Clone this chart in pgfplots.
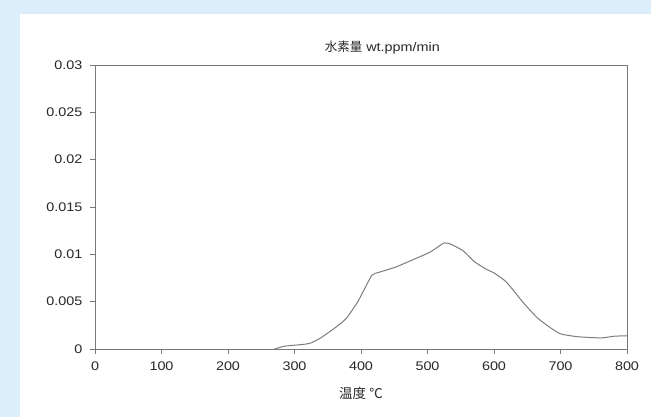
\documentclass[border=0pt]{standalone}
\usepackage{pgfplots}
\pgfplotsset{compat=1.18}
\usepackage{fontspec}
\setmainfont{Liberation Sans}[FakeStretch=1.15]
\newfontfamily\cjk{Noto Sans CJK JP}
\definecolor{bgblue}{RGB}{221,238,251}
\definecolor{axgray}{RGB}{120,120,120}
\definecolor{linegray}{RGB}{125,125,125}
\definecolor{txt}{RGB}{40,40,40}

\begin{document}
\begin{tikzpicture}[x=1pt,y=1pt]
\fill[bgblue] (0,0) rectangle (651,417);
\fill[white] (20,0) rectangle (651,403);
\begin{axis}[
  at={(95pt,68pt)}, anchor=south west,
  width=532pt, height=284pt, scale only axis,
  xmin=0, xmax=800, ymin=0, ymax=0.03,
  scaled y ticks=false, scaled x ticks=false,
  xtick={0,100,...,800},
  xticklabels={0,100,200,300,400,500,600,700,800},
  ytick={0,0.005,0.01,0.015,0.02,0.025,0.03},
  yticklabels={0,0.005,0.01,0.015,0.02,0.025,0.03},
  xtick pos=left, ytick pos=left,
  tick align=outside, major tick length=5pt,
  axis line style={axgray, line width=0.9pt},
  tick style={axgray, line width=0.8pt},
  ticklabel style={font=\fontsize{12.5}{13}\selectfont, text=txt},
  xticklabel style={yshift=-4pt},
  yticklabel style={xshift=-4pt},
  title={{\cjk 水素量} wt.ppm/min},
  title style={at={(rel axis cs:0.54,1)}, anchor=base, inner sep=0pt, yshift=7.5pt,
    font=\fontsize{12.5}{13}\selectfont, text=txt},
  xlabel={{\cjk 温度 ℃}},
  xlabel style={at={(rel axis cs:0.5,0)}, anchor=center, yshift=-44pt,
    font=\fontsize{13.5}{14}\selectfont, text=txt},
]
\addplot[linegray, line width=1pt, smooth, tension=0.3] coordinates {
(270,0) (275,0.0001) (285,0.0003) (300,0.0004) (315,0.0005) (325,0.00064)
(340,0.0012) (361,0.00224) (378,0.00324) (396,0.0051) (416,0.00776) (427,0.0081)
(452,0.00865) (477,0.0094) (503,0.0102) (525,0.0112) (535,0.01107) (553,0.0104)
(571,0.0092) (589,0.0084) (601,0.0080) (619,0.00705) (644,0.0049) (665,0.0033)
(685,0.00224) (700,0.0016) (725,0.0013) (761,0.00117) (781,0.00135) (800,0.0014)
};
\end{axis}
\end{tikzpicture}
\end{document}
